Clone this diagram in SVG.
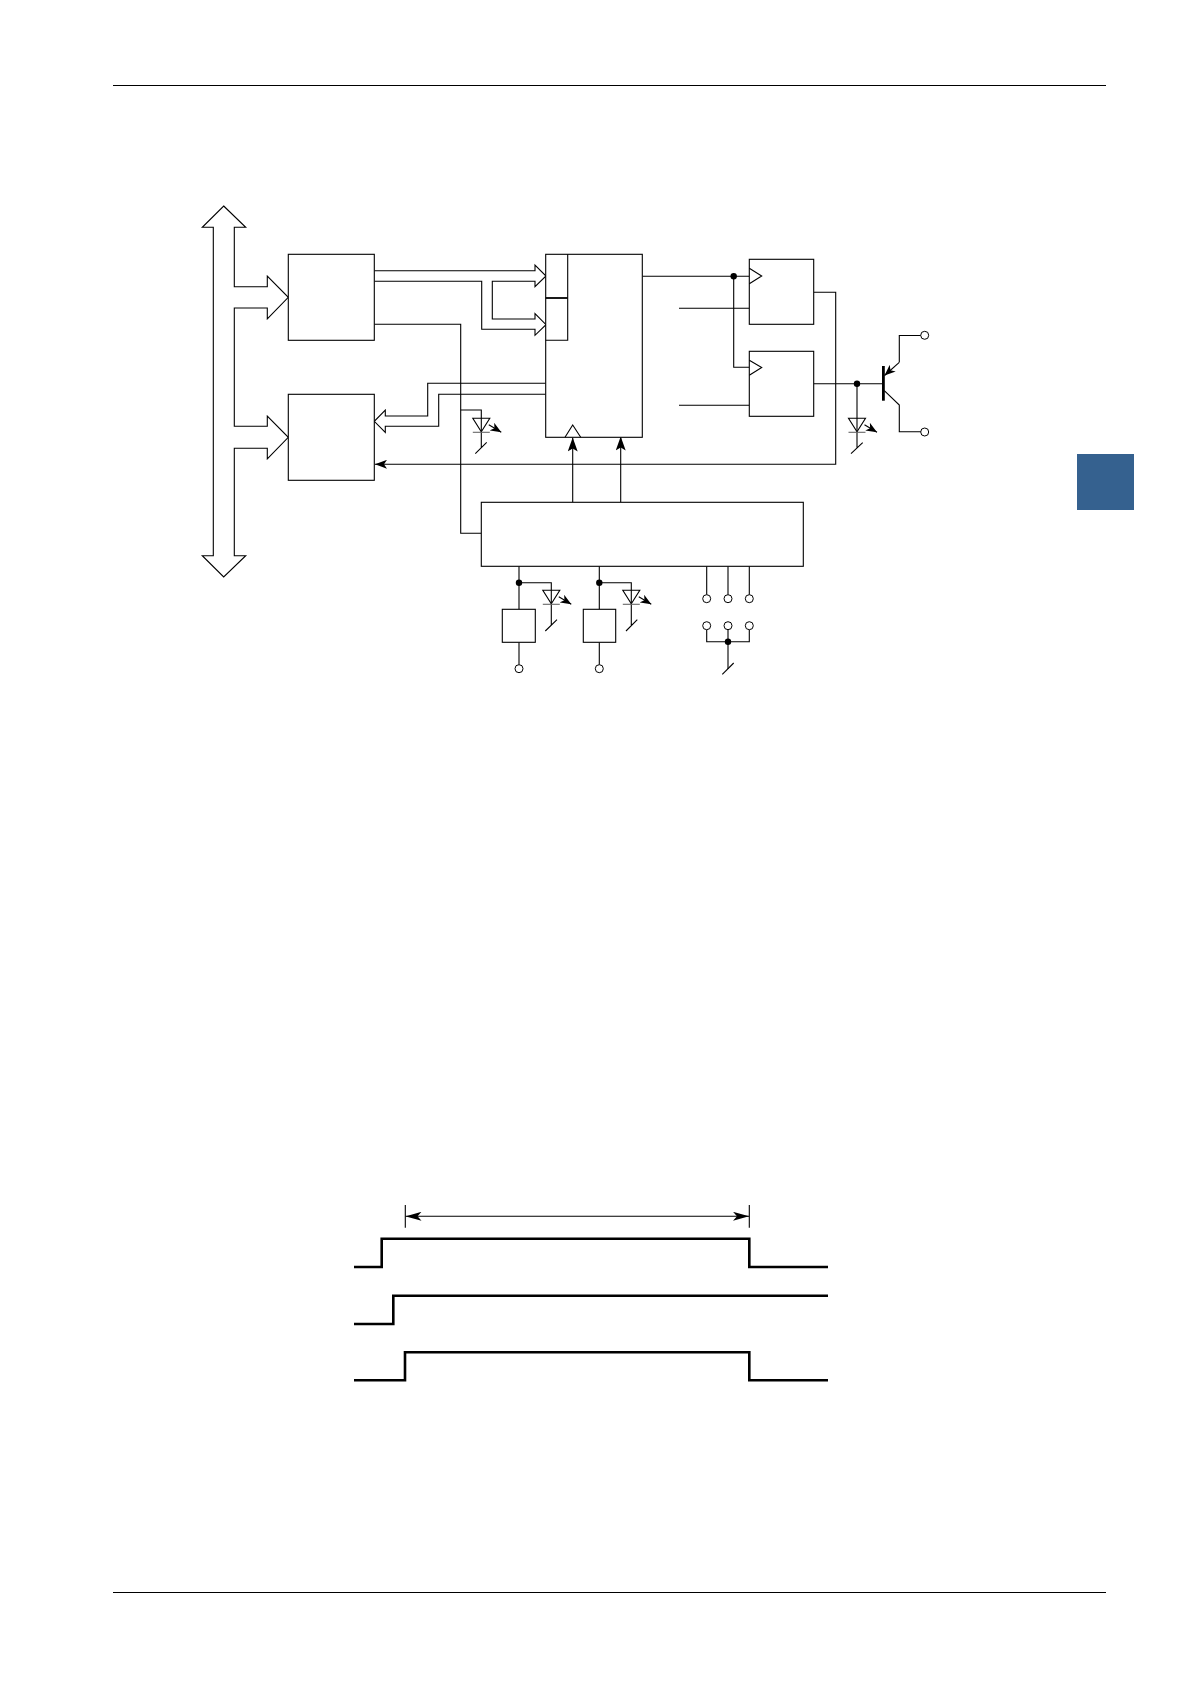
<svg xmlns="http://www.w3.org/2000/svg" width="1191" height="1684" viewBox="0 0 1191 1684">
<defs>
<style>
.l{fill:none;stroke:#000;stroke-width:1.1}
.b{fill:#fff;stroke:#000;stroke-width:1.1}
.d{fill:#000;stroke:none}
.c{fill:#fff;stroke:#000;stroke-width:1}
.t{fill:none;stroke:#000;stroke-width:2.6}
.g{stroke:#666}
</style>
<marker id="ah" viewBox="0 0 16 9" refX="16" refY="4.500" markerWidth="16" markerHeight="9" markerUnits="userSpaceOnUse" orient="auto-start-reverse"><path d="M0 0L16 4.500L0 9L4 4.500Z" fill="#000"/></marker>
<marker id="ar" viewBox="0 0 12 9" refX="12" refY="4.500" markerWidth="12" markerHeight="9" markerUnits="userSpaceOnUse" orient="auto"><path d="M0 0L12 4.500L0 9L3 4.500Z" fill="#000"/></marker>
<marker id="up" viewBox="0 0 10 14" refX="5" refY="0" markerWidth="10" markerHeight="14" markerUnits="userSpaceOnUse" orient="0"><path d="M5 0L10 14L5 11L0 14Z" fill="#000"/></marker>
<marker id="sm" viewBox="0 0 11 9" refX="11" refY="4.500" markerWidth="11" markerHeight="9" markerUnits="userSpaceOnUse" orient="auto"><path d="M0 0L11 4.500L0 9L3 4.500Z" fill="#000"/></marker>
<g id="led"><path class="l" d="M-8.500 0H8.500L0 13.500Z"/><path class="l g" d="M-8.500 14H8.500"/><path class="l" d="M7.500 6.500L20 14" marker-end="url(#sm)"/></g>
</defs>
<rect width="1191" height="1684" fill="#fff"/>
<g id="page">
<path class="l" d="M113 85.500H1106"/>
<path class="l" d="M113 1592.500H1106"/>
<rect id="tab" x="1077" y="454" width="57" height="56" fill="#35618f"/>
</g>
<g id="bus"><path class="b" d="M223.700 206L245.700 227.300H234.300V286.700H267.300V276L288.300 297.300L267.300 319V308H234.300V426.300H267.300V416L288.300 437.300L267.300 459V448.300H234.300V555.700H245.700L223.700 577L202.300 555.700H213.300V227.300H202.300Z"/></g>
<g id="connectors">
<path class="l" d="M374.300 270.700H535V265L546 276L535 286.700V281.300H492.300V319H535V313.700L546 324.700L535 335.300V329.300H481.700V281.300H374.300"/>
<path class="l" d="M545.700 383.300H427.700V416H385.300V410L374.300 421.300L385.300 432.300V426.300H438.700V394.300H545.700"/>
<path class="l" d="M374.300 324.300H460.700V533.300H481.300"/>
<path class="l" d="M460.700 410H481.300V448M486.700 442.300L475.300 453.700"/>
<path class="l" d="M813.700 292.300H835.700V464.300H375" marker-end="url(#ar)"/>
<path class="l" d="M642.300 276.300H749.300"/>
<path class="l" d="M733.700 276.300V367.300H749.300"/>
<path class="l" d="M679 308.300H749.300M679 405.300H749.300"/>
<path class="l" d="M813.700 383.700H882M857 383.700V448M862.700 442.700L851 453.700"/>
<path class="l" d="M572.700 502.300V437.500" marker-end="url(#up)"/>
<path class="l" d="M620.700 502.300V436.500" marker-end="url(#up)"/>
<path class="l" d="M519 566.300V609.300M599.300 566.300V609.300M519 642.300V664.700M599.300 642.300V664.700"/>
<path class="l" d="M519 582.700H551.300V625M557 619.700L545.300 631M599.300 582.700H631.300V625M637.300 619.700L626 631"/>
<path class="l" d="M706.700 566.300V594.700M728 566.300V594.700M749.300 566.300V594.700"/>
<path class="l" d="M706.700 629.700V641.700H749.300V629.700M728 629.700V669"/>
<path class="l" d="M733.700 663L722.300 674.300"/>
<path class="l" d="M899.300 362.300L884.500 375.500" marker-end="url(#sm)"/>
<path class="l" d="M899.300 362.300V335.500H921M884.300 390.700L899.300 405V431.700H921"/>
</g>
<g id="block1"><rect class="b" x="288.300" y="254.300" width="86" height="86"/></g>
<g id="block2"><rect class="b" x="288.300" y="394.300" width="86" height="86"/></g>
<g id="register"><rect class="b" x="545.700" y="254.300" width="96.600" height="183"/><path class="l" d="M567.700 254.300V340.300H545.700"/><path class="l" style="stroke-width:1.800" d="M545.700 298H567.700"/><path class="l" d="M565 437.300L572.700 425L580.700 437.300"/></g>
<g id="ff1"><rect class="b" x="749.300" y="259.300" width="64.400" height="65"/><path class="l" d="M749.300 268.300L761.700 276L749.300 283.700"/></g>
<g id="ff2"><rect class="b" x="749.300" y="351.300" width="64.400" height="65"/><path class="l" d="M749.300 360.300L761.700 367.500L749.300 375.300"/></g>
<g id="control"><rect class="b" x="481.300" y="502.300" width="322" height="64"/></g>
<g id="sw1"><rect class="b" x="502.300" y="609.300" width="33" height="33"/></g>
<g id="sw2"><rect class="b" x="583.300" y="609.300" width="32.400" height="33"/></g>
<g id="led1"><use href="#led" x="481.300" y="418.300"/></g>
<g id="led2"><use href="#led" x="857" y="418.300"/></g>
<g id="led3"><use href="#led" x="551.300" y="590.300"/></g>
<g id="led4"><use href="#led" x="631.300" y="590.300"/></g>
<g id="junctions">
<circle class="d" cx="733.700" cy="276.300" r="3.200"/><circle class="d" cx="857" cy="383.700" r="3.200"/><circle class="d" cx="519" cy="582.700" r="3.200"/><circle class="d" cx="599.300" cy="582.700" r="3.200"/><circle class="d" cx="728" cy="641.700" r="3.200"/>
</g>
<g id="terminals">
<circle class="c" cx="924.700" cy="335.300" r="4"/><circle class="c" cx="924.700" cy="432" r="4"/><circle class="c" cx="519" cy="668.700" r="4"/><circle class="c" cx="599.300" cy="668.700" r="4"/>
<circle class="c" cx="706.700" cy="598.700" r="4"/><circle class="c" cx="728" cy="598.700" r="4"/><circle class="c" cx="749.300" cy="598.700" r="4"/>
<circle class="c" cx="706.700" cy="625.700" r="4"/><circle class="c" cx="728" cy="625.700" r="4"/><circle class="c" cx="749.300" cy="625.700" r="4"/>
</g>
<g id="transistor"><rect x="882" y="366" width="2.800" height="34.700" fill="#000"/></g>
<g id="timing">
<path class="l" d="M405.300 1205V1227.700M749.300 1205V1227.700"/>
<path class="l" d="M405.500 1216.300H749" marker-start="url(#ah)" marker-end="url(#ah)"/>
<path class="t" d="M354 1267H381.700V1238.700H749.300V1267H828"/>
<path class="t" d="M354 1324H393.300V1295.700H828"/>
<path class="t" d="M354 1380.300H405V1352.300H749.300V1380.300H828"/>
</g>
</svg>
